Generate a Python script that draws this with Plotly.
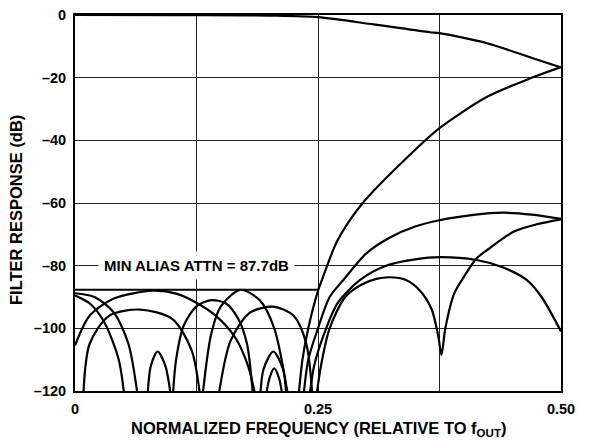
import plotly.graph_objects as go

# normalized frequency (relative to f_out) and filter response in dB
passband_f = [0, 0.1, 0.175, 0.2, 0.25, 0.307, 0.365, 0.375, 0.424, 0.471, 0.5]
passband_db = [0, -0.05, -0.1, -0.2, -0.7, -3.0, -5.5, -5.8, -9.0, -13.8, -16.7]

image1_f = [0.229, 0.234, 0.24, 0.25, 0.254, 0.27, 0.296, 0.35, 0.375, 0.424, 0.471, 0.5]
image1_db = [-125, -110, -100, -88, -84.6, -72, -60, -43, -36.1, -26.1, -19.9, -16.6]

image2_f = [0.234, 0.24, 0.25, 0.262, 0.276, 0.3, 0.324, 0.35, 0.375, 0.41, 0.44, 0.47, 0.5]
image2_db = [-125, -110, -100, -90, -84.6, -76, -71, -67.5, -65.5, -63.8, -63.1, -63.7, -65.1]

image3_f = [0.24, 0.246, 0.256, 0.27, 0.293, 0.32, 0.35, 0.375, 0.413, 0.44, 0.465, 0.48, 0.5]
image3_db = [-125, -112, -102, -92, -84.6, -80, -78, -77.3, -78.2, -80.5, -84.6, -90, -101]

image4_f = [0.247, 0.253, 0.262, 0.278, 0.295, 0.31, 0.324, 0.34, 0.355, 0.367, 0.374, 0.377,
            0.381, 0.39, 0.398, 0.413, 0.424, 0.451, 0.475, 0.5]
image4_db = [-125, -112, -100, -90, -86, -84.2, -83.7, -84.5, -88, -94, -103, -108.5,
             -100, -89, -84.6, -77.7, -75, -69.2, -66.8, -65.2]

lobe1_f = [0, 0.02, 0.04, 0.055, 0.066]
lobe1_db = [-88.8, -90, -95, -105, -125]

lobe2_f = [0, 0.015, 0.03, 0.045, 0.052]
lobe2_db = [-89.5, -92, -98, -110, -125]

lobe3_f = [0, 0.015, 0.04, 0.08, 0.105, 0.123, 0.145, 0.165, 0.178, 0.188]
lobe3_db = [-105.5, -96, -90.5, -88, -89, -91.5, -96, -103, -112, -125]

lobe4_f = [0.008, 0.015, 0.035, 0.067, 0.1, 0.12, 0.13]
lobe4_db = [-125, -105, -96, -94, -97, -107, -125]

lobe5_f = [0.074, 0.078, 0.085, 0.093, 0.1]
lobe5_db = [-125, -112, -107.4, -112, -125]

lobe10_f = [0.1, 0.104, 0.112, 0.125, 0.14, 0.155, 0.168, 0.177, 0.184]
lobe10_db = [-125, -110, -99, -93, -91, -92, -97, -105, -125]

lobe6_f = [0.13, 0.14, 0.15, 0.17, 0.19, 0.205, 0.221]
lobe6_db = [-125, -102, -93, -87.7, -91, -100, -125]

lobe7_f = [0.146, 0.16, 0.18, 0.204, 0.225, 0.238, 0.245]
lobe7_db = [-125, -104, -95, -93.1, -96, -105, -125]

lobe8_f = [0.19, 0.194, 0.204, 0.214, 0.218]
lobe8_db = [-125, -113, -107.4, -113, -125]

lobe9_f = [0.195, 0.2, 0.205, 0.21, 0.215]
lobe9_db = [-125, -116, -112.8, -116, -125]

min_alias_db = -87.7
min_alias_f = [0, 0.25]

curves = [
    (passband_f, passband_db), (image1_f, image1_db), (image2_f, image2_db),
    (image3_f, image3_db), (image4_f, image4_db), (lobe1_f, lobe1_db),
    (lobe2_f, lobe2_db), (lobe3_f, lobe3_db), (lobe4_f, lobe4_db),
    (lobe5_f, lobe5_db), (lobe10_f, lobe10_db), (lobe6_f, lobe6_db),
    (lobe7_f, lobe7_db), (lobe8_f, lobe8_db), (lobe9_f, lobe9_db),
]

fig = go.Figure()
for fx, db in curves:
    fig.add_trace(go.Scatter(x=fx, y=db, mode="lines",
                             line=dict(color="black", width=2.2, shape="spline", smoothing=0.8),
                             hoverinfo="skip", cliponaxis=True))

fig.add_trace(go.Scatter(x=min_alias_f, y=[min_alias_db, min_alias_db], mode="lines",
                         line=dict(color="black", width=2), hoverinfo="skip"))

fig.add_annotation(x=0.125, y=-80, text="<b>MIN ALIAS ATTN = 87.7dB</b>", showarrow=False,
                   bgcolor="white", borderpad=5,
                   font=dict(family="Liberation Sans, Arial", size=15, color="black"))

tick_font = dict(family="Liberation Sans, Arial", size=14.5, color="black")
title_font = dict(family="Liberation Sans, Arial", size=16.5, color="black")

# axis titles as annotations so they stay put
fig.add_annotation(xref="paper", yref="paper", x=0, y=0.5, xshift=-59, yshift=-7,
                   xanchor="center", yanchor="middle",
                   text="<b>FILTER RESPONSE (dB)</b>", textangle=-90, showarrow=False,
                   font=title_font)
fig.add_annotation(xref="paper", yref="paper", x=0.5, y=0, yshift=-38,
                   xanchor="center", yanchor="middle",
                   text="<b>NORMALIZED FREQUENCY (RELATIVE TO f<sub>OUT</sub>)</b>",
                   showarrow=False, font=title_font)

fig.update_layout(
    width=589, height=440,
    margin=dict(l=67, r=36, t=7, b=57),
    paper_bgcolor="white", plot_bgcolor="white",
    showlegend=False,
    xaxis=dict(range=[0, 0.5], tickvals=[0, 0.125, 0.25, 0.375, 0.5],
               ticktext=["<b>0</b>", "", "<b>0.25</b>", "", "<b>0.50</b>"],
               showgrid=True, gridcolor="#222", gridwidth=1, zeroline=False,
               showline=True, linecolor="black", linewidth=2, mirror=True,
               ticks="", tickfont=tick_font, ticklabelstandoff=4, automargin=False,
               ticklabeloverflow="allow"),
    yaxis=dict(range=[-120, 0], tickvals=[0, -20, -40, -60, -80, -100, -120],
               ticktext=["<b>0</b>", "<b>–20</b>", "<b>–40</b>", "<b>–60</b>",
                         "<b>–80</b>", "<b>–100</b>", "<b>–120</b>"],
               showgrid=True, gridcolor="#222", gridwidth=1, zeroline=False,
               showline=True, linecolor="black", linewidth=2, mirror=True,
               ticks="", tickfont=tick_font, ticklabelstandoff=4, automargin=False,
               ticklabeloverflow="allow"),
)

fig.write_html("out.html")
